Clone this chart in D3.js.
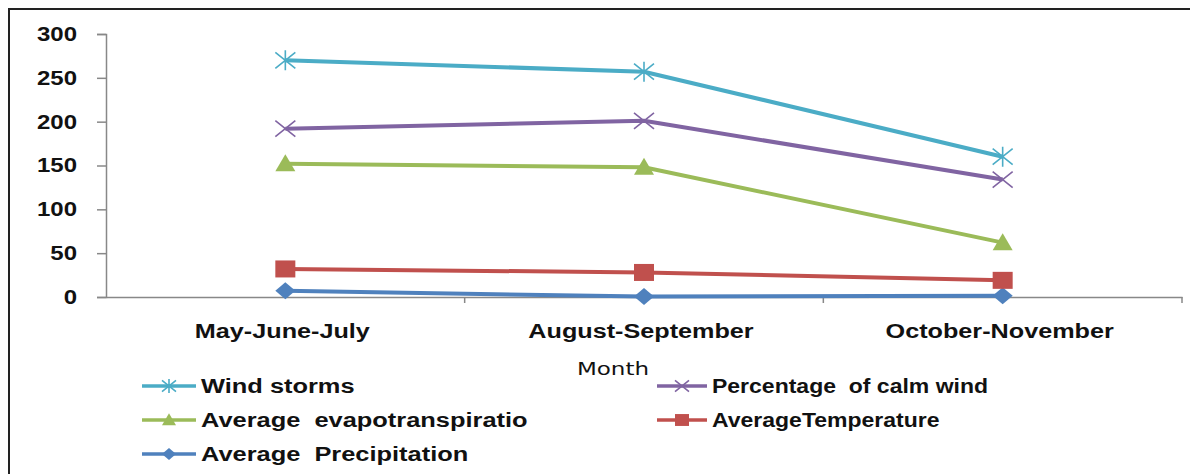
<!DOCTYPE html>
<html>
<head>
<meta charset="utf-8">
<script src="https://cdn.jsdelivr.net/npm/d3@7"></script>
<style>
  html, body { margin: 0; padding: 0; background: #fff; }
  svg { display: block; }
  text { font-family: "Liberation Sans", Arial, sans-serif; white-space: pre; }
</style>
</head>
<body>
<svg id="chart" width="1190" height="474"></svg>
<script>
// Seasonal climate indicators
const months = ["May-June-July", "August-September", "October-November"];
const windStorms = [270, 257, 160];
const calmWind = [192, 201, 134];
const evapotranspiration = [152, 148, 62];
const temperature = [32, 28, 19];
const precipitation = [7, 0.5, 1.5];
const yTicks = [0, 50, 100, 150, 200, 250, 300];

const seriesNames = ["Wind storms", "Percentage  of calm wind", "Average  evapotranspiratio", "AverageTemperature", "Average  Precipitation"];
const seriesValues = [windStorms, calmWind, evapotranspiration, temperature, precipitation];
const seriesColors = ["#4BACC6", "#8064A2", "#9BBB59", "#C0504D", "#4F81BD"];
const seriesMarkers = ["asterisk", "cross", "triangle", "square", "diamond"];

const series = seriesNames.map((name, i) => ({
  name, values: seriesValues[i], color: seriesColors[i], marker: seriesMarkers[i]
}));

const svg = d3.select("#chart");

// text in this chart is rendered slightly wide
const STRETCH = 1.2;
function stretch(sel, sx, x0) {
  sel.attr("x", x0 / sx).attr("transform", `scale(${sx},1)`);
}

// outer frame
svg.append("rect")
  .attr("x", 9).attr("y", 9).attr("width", 1200).attr("height", 500)
  .attr("fill", "none").attr("stroke", "#222").attr("stroke-width", 2);

const plot = { left: 106, right: 1182, top: 34, bottom: 297 };

const x = d3.scaleBand().domain(months).range([plot.left, plot.right]);
const y = d3.scaleLinear().domain([0, 300]).range([plot.bottom, plot.top]);

// y axis
const yAxis = d3.axisLeft(y).tickValues(yTicks).tickSize(9).tickPadding(20);
const gy = svg.append("g").attr("transform", `translate(${plot.left},0)`).call(yAxis);
gy.select(".domain").attr("stroke", "#888").attr("stroke-width", 1.5);
gy.selectAll(".tick line").attr("stroke", "#888").attr("stroke-width", 1.5);
gy.selectAll(".tick text")
  .attr("fill", "#111").style("font-size", "20px").style("font-weight", "bold")
  .call(stretch, STRETCH, -29);

// x axis
const xAxis = d3.axisBottom(x).tickSize(0);
const gx = svg.append("g").attr("transform", `translate(0,${plot.bottom})`).call(xAxis);
gx.select(".domain").attr("stroke", "#888").attr("stroke-width", 1.5);
gx.selectAll(".tick text")
  .attr("y", 41).attr("dy", null)
  .attr("fill", "#111").style("font-size", "21px").style("font-weight", "bold")
  .call(stretch, STRETCH, -3);
// ticks at category boundaries
gx.selectAll(".sep")
  .data(months)
  .enter().append("line")
  .attr("x1", d => x(d) + x.bandwidth())
  .attr("x2", d => x(d) + x.bandwidth())
  .attr("y1", 0).attr("y2", 6)
  .attr("stroke", "#888").attr("stroke-width", 1.5);

// axis title
svg.append("text")
  .attr("y", 375).attr("text-anchor", "middle")
  .style("font-family", "'DejaVu Sans', Verdana, sans-serif")
  .style("font-size", "18px").attr("fill", "#111")
  .text("Month")
  .call(stretch, 1.28, 613);

// marker drawing
function drawMarker(g, type, color, s) {
  const h = s / 2;
  if (type === "asterisk") {
    g.append("path")
      .attr("d", `M${-h},${-h * 0.8}L${h},${h * 0.8}M${-h},${h * 0.8}L${h},${-h * 0.8}M0,${-h}L0,${h}`)
      .attr("stroke", color).attr("stroke-width", 1.6).attr("fill", "none");
  } else if (type === "cross") {
    g.append("path")
      .attr("d", `M${-h},${-h * 0.8}L${h},${h * 0.8}M${-h},${h * 0.8}L${h},${-h * 0.8}`)
      .attr("stroke", color).attr("stroke-width", 1.6).attr("fill", "none");
  } else if (type === "triangle") {
    g.append("path")
      .attr("d", `M0,${-h * 0.95}L${h},${h * 0.75}L${-h},${h * 0.75}Z`)
      .attr("fill", color);
  } else if (type === "square") {
    g.append("rect")
      .attr("x", -h).attr("y", -h * 0.85).attr("width", s).attr("height", s * 0.85)
      .attr("fill", color);
  } else if (type === "diamond") {
    g.append("path")
      .attr("d", `M0,${-h * 0.85}L${h},0L0,${h * 0.85}L${-h},0Z`)
      .attr("fill", color);
  }
}

const line = d3.line()
  .x((d, i) => x(months[i]) + x.bandwidth() / 2)
  .y(d => y(d));

// draw lower series first so the top series sit above
const drawOrder = series.slice().reverse();
drawOrder.forEach(s => {
  svg.append("path")
    .datum(s.values)
    .attr("d", line)
    .attr("fill", "none")
    .attr("stroke", s.color)
    .attr("stroke-width", 4)
    .attr("stroke-linejoin", "round");
  s.values.forEach((v, i) => {
    const g = svg.append("g")
      .attr("transform", `translate(${x(months[i]) + x.bandwidth() / 2},${y(v)})`);
    drawMarker(g, s.marker, s.color, 20);
  });
});

// legend, two columns
const legendCols = [142, 657];
const legendRows = [386, 420, 454];
const legendStretch = [1.27, 1.15];
series.forEach((s, i) => {
  const col = i % 2, row = Math.floor(i / 2);
  const lx = legendCols[col], ly = legendRows[row];
  const lineLen = col ? 50 : 54;
  const g = svg.append("g").attr("transform", `translate(${lx},${ly})`);
  g.append("line").attr("x1", 0).attr("x2", lineLen).attr("y1", 0).attr("y2", 0)
    .attr("stroke", s.color).attr("stroke-width", 3.5);
  const m = g.append("g").attr("transform", `translate(${lineLen / 2},0)`);
  drawMarker(m, s.marker, s.color, 14);
  g.append("text")
    .attr("y", 0).attr("dy", "0.36em")
    .style("font-size", "20px").style("font-weight", "bold")
    .attr("fill", "#111")
    .text(s.name)
    .call(stretch, legendStretch[col], lineLen + 5);
});
</script>
</body>
</html>
